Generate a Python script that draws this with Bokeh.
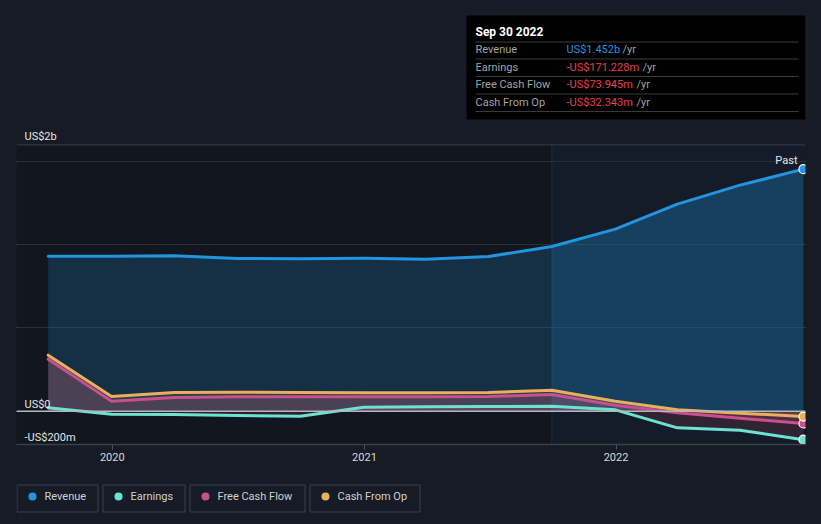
import pandas as pd
from bokeh.plotting import figure
from bokeh.models import (Range1d, BoxAnnotation, Span, Label, FixedTicker,
                          DatetimeTickFormatter, Grid, GlobalInlineStyleSheet)
from bokeh.layouts import column
from bokeh.core.properties import value
from bokeh.embed import file_html
from bokeh.resources import INLINE

# ---------------- data (US$ millions, trailing twelve months) ----------------
dates = ["2019-09-30", "2019-12-31", "2020-03-31", "2020-06-30", "2020-09-30",
         "2020-12-31", "2021-03-31", "2021-06-30", "2021-09-30", "2021-12-31",
         "2022-03-31", "2022-06-30", "2022-09-30"]
revenue = [930, 930, 932, 916, 915, 917, 912, 928, 988, 1092, 1242, 1356, 1452.228]
earnings = [20, -18, -20, -26, -30, 24, 26, 28, 30, 8, -100, -114, -171.228]
free_cash_flow = [312, 60, 82, 86, 86, 86, 86, 88, 100, 35, -10, -42, -73.945]
cash_from_op = [336, 88, 112, 114, 112, 110, 110, 112, 126, 60, 8, -12, -32.343]

series_names = ["Revenue", "Earnings", "Free Cash Flow", "Cash From Op"]
series_colors = ["#2394DF", "#6CE3D2", "#C8508C", "#E8AF5C"]

y_grid_ticks = [500, 1000, 1500]
y_label_values = [0, -200]
y_label_texts = ["US$0", "-US$200m"]
top_label = "US$2b"
x_tick_years = ["2020-01-01", "2021-01-01", "2022-01-01"]
highlight_start = "2021-09-30"
tooltip_title = "Sep 30 2022"

x = pd.to_datetime(dates)
def ms(s):
    return pd.Timestamp(s).value / 1e6

BG = "#161b25"
FRAME_BG = "#12161e"
FONT = "Roboto"
GLOBAL_CSS = GlobalInlineStyleSheet(css="html, body { background: #161b25 !important; margin: 0; padding: 0; }")

x_start = ms("2019-08-15")
x_end = ms("2022-10-03")

def panel(height, x_rng, y_rng):
    f = figure(width=821, height=height, x_range=x_rng, y_range=y_rng,
               x_axis_location=None, y_axis_location=None,
               min_border_left=16, min_border_right=16, min_border_top=0, min_border_bottom=0,
               output_backend="svg", toolbar_location=None,
               background_fill_color=BG, border_fill_color=BG)
    f.outline_line_color = None
    f.grid.visible = False
    f.stylesheets = [GLOBAL_CSS]
    return f

# ---------------- top panel (tooltip + top label) ----------------
t = panel(144, Range1d(16, 805), Range1d(144, 0))

t.quad(left=466, right=805, top=15, bottom=119, fill_color="#000000", line_color=None)
t.segment(x0=[475] * 5, x1=[798] * 5, y0=[41.5, 58.5, 76, 93.5, 111],
          y1=[41.5, 58.5, 76, 93.5, 111], line_color="#3a3a3a", line_width=1)
t.text(x=[475], y=[31], text=[tooltip_title], text_baseline="middle",
       text_color="#ffffff", text_font_size="12px", text_font=value(FONT),
       text_font_style="bold")

def fmt(v):
    if abs(v) >= 1000:
        s = f"US${abs(v)/1000:.3f}b"
    else:
        s = f"US${abs(v):.3f}m"
    return ("-" if v < 0 else "") + s

last_vals = [revenue[-1], earnings[-1], free_cash_flow[-1], cash_from_op[-1]]
row_y = [49, 66.5, 84, 101.5]
t.text(x=[475] * 4, y=row_y, text=series_names, text_baseline="middle",
       text_color="#a0a3a8", text_font_size="11px", text_font=value(FONT))
val_colors = ["#2394DF" if v >= 0 else "#E8414A" for v in last_vals]
t.text(x=[566] * 4, y=row_y, text=[fmt(v) for v in last_vals], text_baseline="middle",
       text_color=val_colors, text_font_size="11px", text_font=value(FONT))
t.text(x=[622, 642, 636, 636], y=row_y, text=["/yr"] * 4, text_baseline="middle",
       text_color="#a0a3a8", text_font_size="11px", text_font=value(FONT))

t.add_layout(Label(x=24, y=136, text=top_label, text_baseline="alphabetic",
                   text_color="#e6e6e6", text_font_size="11px", text_font=FONT))

# ---------------- main chart ----------------
p = figure(width=821, height=326, x_axis_type="datetime",
           x_range=Range1d(x_start, x_end), y_range=Range1d(-200, 1600),
           y_axis_location=None, min_border_left=16, min_border_right=16,
           min_border_top=0, min_border_bottom=26,
           output_backend="svg", toolbar_location=None,
           background_fill_color=FRAME_BG, border_fill_color=BG)
p.outline_line_color = None
p.xgrid.visible = False
p.stylesheets = [GLOBAL_CSS]

p.add_layout(BoxAnnotation(left=ms(highlight_start), right=x_end, fill_color="#131c28",
                           fill_alpha=1.0, line_color=None, level="underlay"))
p.add_layout(Span(location=ms(highlight_start), dimension="height",
                  line_color="#1d2c3e", line_width=1, level="underlay"))
p.add_layout(Grid(dimension=1, ticker=FixedTicker(ticks=y_grid_ticks),
                  grid_line_color="#262e3a", grid_line_width=1))
p.add_layout(Span(location=1600, dimension="width", line_color="#424853", line_width=1.5))

# areas
p.varea(x=x, y1=0, y2=revenue, fill_color="#2394DF", fill_alpha=0.2)
hl = [i for i, d in enumerate(dates) if d >= highlight_start]
p.varea(x=x[hl], y1=0, y2=[revenue[i] for i in hl], fill_color="#2394DF", fill_alpha=0.12)
p.varea(x=x, y1=0, y2=cash_from_op, fill_color="#E8AF5C", fill_alpha=0.12)
p.varea(x=x, y1=0, y2=free_cash_flow, fill_color="#C8508C", fill_alpha=0.2)
p.varea(x=x, y1=0, y2=earnings, fill_color="#E05A6A", fill_alpha=0.15)

p.add_layout(Span(location=0, dimension="width", line_color="#b4b8bd", line_width=1.5))

# lines
for ys, c in [(revenue, series_colors[0]), (free_cash_flow, series_colors[2]),
              (cash_from_op, series_colors[3]), (earnings, series_colors[1])]:
    p.line(x=x, y=ys, line_color=c, line_width=3, line_join="round", line_cap="round")

p.scatter(x=[x[-1]] * 4, y=last_vals, size=9, fill_color=series_colors,
          line_color="#ffffff", line_width=1.2)

# y labels
for v, s in zip(y_label_values, y_label_texts):
    p.add_layout(Label(x=x_start, y=v, x_offset=8, y_offset=7, text=s,
                       text_baseline="alphabetic", text_color="#e6e6e6",
                       text_font_size="11px", text_font=FONT))
p.add_layout(Label(x=x_end, y=1600, x_offset=-8, y_offset=-16, text="Past",
                   text_align="right", text_baseline="alphabetic", text_color="#e6e6e6",
                   text_font_size="11px", text_font=FONT))

# x axis
ax = p.xaxis[0]
ax.ticker = FixedTicker(ticks=[ms(d) for d in x_tick_years])
ax.formatter = DatetimeTickFormatter(years="%Y", months="%Y", days="%Y", hours="%Y",
                                     hourmin="%Y", minutes="%Y", minsec="%Y",
                                     seconds="%Y", milliseconds="%Y", microseconds="%Y")
ax.axis_line_color = "#3a404b"
ax.axis_line_width = 1.5
ax.major_tick_line_color = "#4a505b"
ax.major_tick_in = 0
ax.major_tick_out = 5
ax.minor_tick_line_color = None
ax.major_label_standoff = 3
ax.major_label_text_color = "#d8d8d8"
ax.major_label_text_font_size = "11px"
ax.major_label_text_font = FONT

# ---------------- legend panel ----------------
lg = panel(54, Range1d(16, 805), Range1d(54, 0))
lg.quad(left=[16.5, 102.5, 189.5, 309.5], right=[97.5, 184.5, 304.5, 419.5],
        top=14.5, bottom=41.5, fill_color=BG, line_color="#3b414c", line_width=1)
lg.scatter(x=[32, 118, 205, 325], y=[26, 26, 26, 26], size=8,
           fill_color=series_colors, line_color=None)
lg.text(x=[44, 130, 217, 337], y=[26, 26, 26, 26], text=series_names,
        text_baseline="middle", text_color="#cfd1d4", text_font_size="11px",
        text_font=value(FONT))

layout = column(t, p, lg, spacing=0)
open("out.html", "w").write(file_html(layout, INLINE))
